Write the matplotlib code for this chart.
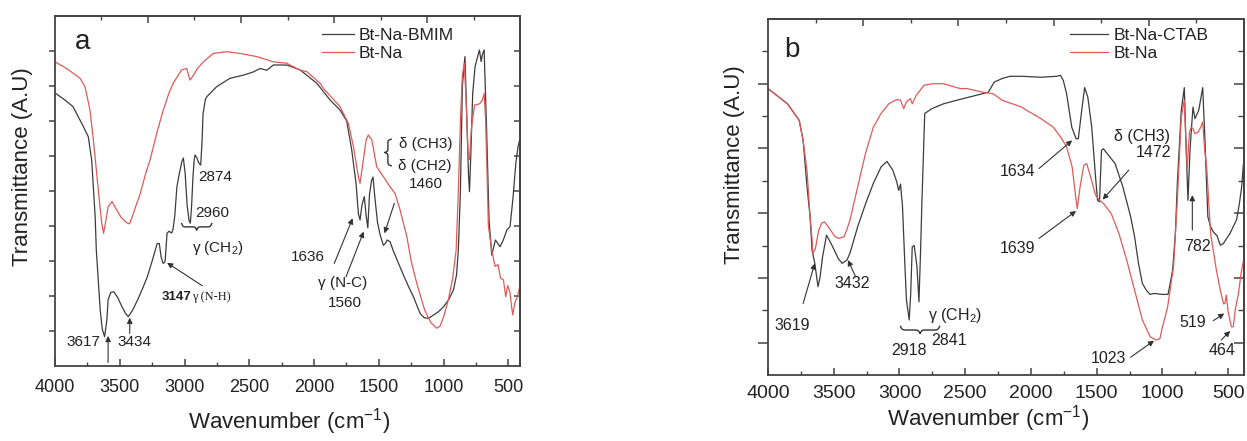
import numpy as np
import matplotlib
matplotlib.use('Agg')
import matplotlib.pyplot as plt
from matplotlib.ticker import MultipleLocator, NullFormatter

plt.rcParams['font.family'] = ['Liberation Sans', 'DejaVu Sans']
plt.rcParams['mathtext.fontset'] = 'custom'
plt.rcParams['mathtext.rm'] = 'Liberation Sans'
plt.rcParams['mathtext.it'] = 'Liberation Sans:italic'

# panel a: Bt-Na-BMIM (black) and Bt-Na (red)
bmim_wn = [4000, 3930, 3861, 3781, 3743, 3717, 3704, 3690, 3681, 3665,
           3651, 3635, 3617, 3600, 3590, 3570, 3545, 3515, 3484, 3455,
           3434, 3400, 3362, 3320, 3287, 3250, 3211, 3195, 3180, 3165,
           3150, 3135, 3120, 3100, 3089, 3075, 3059, 3040, 3020, 3009,
           2995, 2980, 2965, 2955, 2945, 2935, 2925, 2919, 2905, 2890,
           2875, 2865, 2857, 2840, 2829, 2752, 2649, 2546, 2470, 2417,
           2365, 2314, 2211, 2108, 1979, 1876, 1799, 1748, 1709, 1676,
           1658, 1645, 1630, 1612, 1598, 1585, 1572, 1556, 1545, 1530,
           1510, 1490, 1465, 1450, 1435, 1413, 1389, 1350, 1310, 1268,
           1233, 1181, 1150, 1117, 1080, 1040, 1001, 960, 924, 900,
           886, 870, 855, 835, 820, 808, 800, 790, 775, 757,
           740, 723, 710, 700, 687, 677, 667, 649, 628, 600,
           564, 539, 510, 487, 464, 442, 425, 410]
bmim_t = [7.80, 7.62, 7.41, 6.84, 6.55, 5.89, 5.12, 4.27, 3.31, 2.40,
          1.60, 1.05, 0.84, 1.30, 1.89, 2.10, 2.12, 1.95, 1.70, 1.50,
          1.41, 1.60, 1.89, 2.25, 2.55, 3.00, 3.50, 3.50, 3.10, 2.93,
          2.98, 3.79, 3.85, 3.80, 3.90, 4.30, 5.12, 5.50, 5.85, 5.94,
          5.50, 4.60, 4.15, 4.08, 4.60, 5.40, 5.90, 6.03, 5.95, 5.80,
          5.74, 6.40, 7.20, 7.60, 7.69, 7.98, 8.22, 8.31, 8.40, 8.50,
          8.45, 8.60, 8.60, 8.46, 8.08, 7.60, 7.31, 7.00, 6.17, 5.22,
          4.36, 4.17, 4.60, 4.84, 4.30, 3.95, 4.90, 5.30, 5.40, 4.80,
          4.10, 3.75, 3.45, 3.50, 3.60, 3.55, 3.30, 2.95, 2.60, 2.25,
          1.98, 1.50, 1.38, 1.36, 1.45, 1.55, 1.69, 1.90, 2.17, 2.60,
          3.31, 5.00, 8.00, 8.84, 7.00, 5.50, 4.98, 6.00, 7.80, 8.55,
          8.80, 9.03, 8.70, 8.90, 9.03, 7.80, 6.65, 4.17, 3.17, 3.60,
          3.41, 3.60, 3.90, 3.98, 4.80, 5.80, 6.27, 6.50]

na_a_wn = [4000, 3910, 3807, 3768, 3730, 3704, 3678, 3658, 3640, 3625,
           3605, 3590, 3560, 3530, 3490, 3450, 3425, 3400, 3378, 3344,
           3300, 3266, 3211, 3164, 3120, 3087, 3050, 3022, 2983, 2958,
           2932, 2900, 2855, 2778, 2674, 2571, 2442, 2314, 2211, 2108,
           2056, 1954, 1928, 1799, 1735, 1696, 1658, 1645, 1619, 1598,
           1581, 1554, 1516, 1465, 1413, 1375, 1336, 1284, 1250, 1207,
           1146, 1100, 1055, 1027, 1000, 964, 930, 903, 886, 870,
           855, 840, 825, 810, 800, 785, 760, 744, 720, 700,
           687, 675, 654, 628, 602, 580, 560, 538, 520, 505,
           487, 475, 466, 450, 430, 410]
na_a_t = [8.69, 8.50, 8.22, 7.98, 7.31, 6.46, 5.50, 4.74, 4.10, 3.79,
          4.20, 4.55, 4.70, 4.50, 4.25, 4.10, 4.06, 4.30, 4.55, 4.90,
          5.50, 5.89, 6.70, 7.31, 7.80, 8.08, 8.30, 8.46, 8.50, 8.17,
          8.30, 8.50, 8.69, 8.93, 8.98, 8.93, 8.84, 8.69, 8.65, 8.45,
          8.41, 8.08, 7.93, 7.41, 6.93, 6.27, 5.41, 5.22, 5.90, 6.46,
          6.60, 6.46, 5.69, 5.41, 5.12, 4.93, 4.46, 3.70, 3.00, 2.36,
          1.60, 1.25, 1.08, 1.14, 1.40, 1.88, 2.50, 3.31, 5.00, 7.00,
          8.30, 8.65, 7.50, 6.00, 5.90, 6.80, 7.46, 7.46, 7.50, 7.60,
          7.79, 7.00, 4.00, 3.30, 2.84, 2.90, 2.50, 2.46, 1.98, 2.30,
          2.10, 1.70, 1.46, 1.80, 1.98, 2.30]

# panel b: Bt-Na-CTAB (black) and Bt-Na (red)
ctab_wn = [4000, 3852, 3763, 3733, 3703, 3680, 3665, 3644, 3620, 3605,
           3585, 3555, 3525, 3496, 3466, 3436, 3400, 3377, 3318, 3259,
           3199, 3140, 3095, 3051, 3021, 3006, 2992, 2977, 2960, 2947,
           2926, 2915, 2903, 2888, 2867, 2852, 2840, 2829, 2808, 2754,
           2665, 2517, 2369, 2324, 2280, 2220, 2160, 2072, 1924, 1805,
           1776, 1754, 1729, 1690, 1657, 1640, 1614, 1592, 1568, 1538,
           1509, 1494, 1479, 1464, 1449, 1420, 1360, 1301, 1242, 1212,
           1182, 1153, 1123, 1095, 1064, 1000, 958, 946, 923, 902,
           887, 857, 834, 820, 806, 790, 768, 753, 724, 694,
           679, 655, 634, 613, 585, 560, 537, 515, 487, 460,
           436, 415, 398, 385]
ctab_t = [8.85, 8.38, 7.87, 7.25, 5.81, 4.89, 3.86, 3.45, 2.73, 3.00,
          3.65, 4.32, 4.10, 3.86, 3.60, 3.45, 3.55, 3.76, 4.58, 5.28,
          5.92, 6.43, 6.60, 6.33, 5.97, 5.70, 5.90, 5.20, 3.50, 2.31,
          1.70, 2.50, 3.96, 4.00, 3.35, 2.26, 3.80, 5.40, 8.08, 8.23,
          8.38, 8.54, 8.69, 8.74, 9.05, 9.16, 9.23, 9.23, 9.20, 9.23,
          9.26, 9.10, 8.69, 7.66, 7.30, 7.30, 8.18, 8.88, 8.59, 7.66,
          6.12, 5.40, 5.35, 6.94, 6.99, 6.84, 6.53, 5.81, 4.89, 4.27,
          3.44, 2.83, 2.62, 2.49, 2.52, 2.49, 2.49, 2.73, 3.24, 4.37,
          5.92, 8.18, 8.88, 7.00, 5.40, 7.00, 8.28, 7.92, 8.18, 8.88,
          7.46, 4.89, 4.58, 4.42, 4.30, 4.01, 4.06, 4.20, 4.37, 4.60,
          4.80, 5.30, 5.80, 6.50]

na_b_wn = [4000, 3852, 3763, 3733, 3703, 3680, 3665, 3659, 3640, 3614,
           3590, 3570, 3545, 3525, 3495, 3466, 3422, 3400, 3377, 3318,
           3259, 3199, 3140, 3081, 3021, 2992, 2968, 2947, 2917, 2903,
           2873, 2814, 2750, 2665, 2540, 2487, 2369, 2287, 2220, 2072,
           2034, 1924, 1831, 1776, 1729, 1687, 1663, 1648, 1627, 1598,
           1576, 1538, 1509, 1479, 1449, 1390, 1331, 1272, 1212, 1153,
           1093, 1049, 1019, 1005, 961, 916, 887, 857, 834, 820,
           812, 795, 782, 768, 753, 730, 709, 694, 680, 664,
           634, 590, 560, 536, 525, 515, 500, 476, 461, 447,
           423, 400, 385]
na_b_t = [8.85, 8.38, 7.87, 7.25, 6.30, 4.89, 4.20, 3.76, 3.90, 4.48,
          4.70, 4.73, 4.60, 4.48, 4.30, 4.22, 4.27, 4.50, 4.78, 5.81,
          6.84, 7.66, 8.08, 8.38, 8.51, 8.49, 8.23, 8.44, 8.54, 8.38,
          8.64, 8.95, 9.00, 9.00, 8.85, 8.85, 8.74, 8.69, 8.49, 8.28,
          8.18, 7.92, 7.66, 7.36, 7.05, 6.43, 5.61, 5.14, 5.81, 6.48,
          6.53, 6.00, 5.56, 5.40, 5.30, 4.99, 4.37, 3.55, 2.62, 1.70,
          1.18, 1.08, 1.13, 1.40, 2.10, 3.34, 5.40, 7.97, 8.49, 7.00,
          6.40, 7.50, 7.66, 7.60, 7.46, 7.50, 7.66, 7.82, 7.00, 6.43,
          4.37, 3.24, 2.62, 2.20, 2.21, 2.47, 1.95, 1.49, 1.49, 2.00,
          2.50, 3.20, 3.50]

BLACK = '#3c3c3c'
RED = '#e05a5a'
TXT = '#222222'
SPINE = '#444444'

fig = plt.figure(figsize=(12.47, 4.41), dpi=100)
ax_a = fig.add_axes([55 / 1247, 75 / 441, 465 / 1247, 350 / 441])
ax_b = fig.add_axes([768 / 1247, 66 / 441, 476 / 1247, 356 / 441])


def setup(ax, xright, ytop, ymaj, ymin, maj_len, min_len, lab_size, pad):
    ax.set_xlim(4000, xright)
    ax.set_ylim(0, ytop)
    for sp in ax.spines.values():
        sp.set_color(SPINE)
        sp.set_linewidth(1.3)
    ax.xaxis.set_major_locator(MultipleLocator(500))
    ax.xaxis.set_minor_locator(MultipleLocator(250))
    ax.tick_params(axis='x', which='both', direction='in', top=False,
                   colors=SPINE, labelcolor=TXT, labelsize=lab_size, pad=pad)
    ax.tick_params(axis='x', which='major', length=5, width=1.1)
    ax.tick_params(axis='x', which='minor', length=3, width=1.0)
    ax.set_yticks(ymaj)
    ax.set_yticks(ymin, minor=True)
    ax.yaxis.set_major_formatter(NullFormatter())
    ax.tick_params(axis='y', which='both', direction='out', right=False,
                   colors=SPINE)
    ax.tick_params(axis='y', which='major', length=maj_len, width=1.1)
    ax.tick_params(axis='y', which='minor', length=min_len, width=1.0)

    span = 4000 - xright
    top = ax.secondary_xaxis('top', functions=(lambda x: (4000 - x) / span,
                                               lambda u: 4000 - u * span))
    top.set_xticks([0.2, 0.4, 0.6, 0.8])
    top.set_xticks([0.1, 0.3, 0.5, 0.7, 0.9], minor=True)
    top.tick_params(which='both', direction='in', labeltop=False, colors=SPINE)
    top.tick_params(which='major', length=5, width=1.1)
    top.tick_params(which='minor', length=3, width=1.0)
    top.spines['top'].set_color(SPINE)
    top.spines['top'].set_linewidth(1.3)

    right = ax.secondary_yaxis('right')
    right.set_yticks(ymaj)
    right.set_yticks(ymin, minor=True)
    right.tick_params(which='both', direction='in', labelright=False, colors=SPINE)
    right.tick_params(which='major', length=maj_len, width=1.1)
    right.tick_params(which='minor', length=min_len, width=1.0)
    right.spines['right'].set_color(SPINE)
    right.spines['right'].set_linewidth(1.3)


def arrow(ax, start, end):
    ax.annotate('', xy=end, xytext=start,
                arrowprops=dict(arrowstyle='-|>', color='#333333', lw=0.8,
                                mutation_scale=8, shrinkA=0, shrinkB=0))


def brace_shape(n=60, b=45):
    u = np.linspace(0, 0.5, n)
    h = 1 / (1 + np.exp(-b * u)) + 1 / (1 + np.exp(-b * (u - 0.5)))
    h = (h - h.min()) / (h.max() - h.min())
    return np.concatenate([h, h[::-1][1:]])


def hbrace(ax, x0, x1, y_end, y_tip):
    shp = brace_shape()
    s = np.linspace(0, 1, len(shp))
    ax.plot(x0 + (x1 - x0) * s, y_end + (y_tip - y_end) * shp,
            color='#333333', lw=1.0)


def vbrace(ax, y0, y1, x_end, x_tip):
    shp = brace_shape()
    s = np.linspace(0, 1, len(shp))
    ax.plot(x_end + (x_tip - x_end) * shp, y0 + (y1 - y0) * s,
            color='#333333', lw=1.0)


# ---------------- panel a ----------------
setup(ax_a, 410, 10, list(range(1, 10)), [], 4, 2, 13, 9)
ax_a.plot(bmim_wn, bmim_t, color=BLACK, lw=0.9, label='Bt-Na-BMIM')
ax_a.plot(na_a_wn, na_a_t, color=RED, lw=0.9, label='Bt-Na')
ax_a.legend(loc='upper left', bbox_to_anchor=(0.575, 0.965), frameon=False,
            fontsize=12.5, handlelength=1.8, handletextpad=0.3,
            labelspacing=0.15, borderpad=0, borderaxespad=0,
            labelcolor=TXT)
ax_a.text(3787, 9.27, 'a', fontsize=20, ha='center', va='center', color=TXT)
ax_a.set_xlabel('Wavenumber (cm$^{-1}$)', fontsize=16, color=TXT)
ax_a.xaxis.set_label_coords(0.503, -0.115)
ax_a.set_ylabel('Transmittance (A.U)', fontsize=16, color=TXT)
ax_a.yaxis.set_label_coords(-0.048, 0.57)

fs = 11
ax_a.text(2895, 5.41, '2874', fontsize=fs, ha='left', va='center', color=TXT)
ax_a.text(2915, 4.36, '2960', fontsize=fs, ha='left', va='center', color=TXT)
hbrace(ax_a, 3022, 2790, 4.07, 3.88)
ax_a.text(2740, 3.36, '\u03b3 (CH$_2$)', fontsize=fs, ha='center', va='center', color=TXT)
ax_a.text(3178, 1.98, '3147', fontsize=9.5, ha='left', va='center', color=TXT,
          fontweight='bold')
ax_a.text(2945, 1.96, '\u03b3 (N-H)', fontsize=9, ha='left', va='center', color=TXT,
          family='Liberation Serif')
arrow(ax_a, (2862, 2.29), (3135, 2.95))
ax_a.text(3651, 0.70, '3617', fontsize=fs, ha='right', va='center', color=TXT)
arrow(ax_a, (3590, 0.10), (3590, 0.86))
ax_a.text(3514, 0.70, '3434', fontsize=fs, ha='left', va='center', color=TXT)
arrow(ax_a, (3423, 0.93), (3423, 1.38))
ax_a.text(1920, 3.12, '1636', fontsize=fs, ha='right', va='center', color=TXT)
arrow(ax_a, (1844, 2.93), (1702, 4.22))
ax_a.text(1778, 2.36, '\u03b3 (N-C)', fontsize=fs, ha='center', va='center', color=TXT)
ax_a.text(1762, 1.79, '1560', fontsize=fs, ha='center', va='center', color=TXT)
arrow(ax_a, (1753, 2.55), (1617, 3.84))
vbrace(ax_a, 5.72, 6.48, 1405, 1455)
ax_a.text(1344, 6.34, '\u03b4 (CH3)', fontsize=fs, ha='left', va='center', color=TXT)
ax_a.text(1353, 5.72, '\u03b4 (CH2)', fontsize=fs, ha='left', va='center', color=TXT)
ax_a.text(1137, 5.19, '1460', fontsize=fs, ha='center', va='center', color=TXT)
arrow(ax_a, (1380, 4.65), (1456, 3.79))

# ---------------- panel b ----------------
setup(ax_b, 380, 11, [1, 3, 5, 7, 9], [2, 4, 6, 8, 10], 7, 4, 14, 7)
ax_b.plot(ctab_wn, ctab_t, color=BLACK, lw=0.9, label='Bt-Na-CTAB')
ax_b.plot(na_b_wn, na_b_t, color=RED, lw=0.9, label='Bt-Na')
ax_b.legend(loc='upper left', bbox_to_anchor=(0.635, 0.975), frameon=False,
            fontsize=12.5, handlelength=2.2, handletextpad=0.3,
            labelspacing=0.15, borderpad=0, borderaxespad=0,
            labelcolor=TXT)
ax_b.text(3822, 10.03, 'b', fontsize=20, ha='center', va='center', color=TXT)
ax_b.set_xlabel('Wavenumber (cm$^{-1}$)', fontsize=16, color=TXT)
ax_b.xaxis.set_label_coords(0.463, -0.08)
ax_b.set_ylabel('Transmittance (A.U)', fontsize=16, color=TXT)
ax_b.yaxis.set_label_coords(-0.048, 0.59)

fs = 11.5
ax_b.text(3816, 1.54, '3619', fontsize=fs, ha='center', va='center', color=TXT)
arrow(ax_b, (3733, 2.21), (3644, 3.45))
ax_b.text(3362, 2.83, '3432', fontsize=fs, ha='center', va='center', color=TXT)
arrow(ax_b, (3333, 3.03), (3392, 3.55))
hbrace(ax_b, 2992, 2695, 1.50, 1.28)
ax_b.text(2926, 0.77, '2918', fontsize=fs, ha='center', va='center', color=TXT)
ax_b.text(2621, 1.08, '2841', fontsize=fs, ha='center', va='center', color=TXT)
ax_b.text(2784, 1.85, '\u03b3 (CH$_2$)', fontsize=fs, ha='left', va='center', color=TXT)
ax_b.text(2102, 6.28, '1634', fontsize=fs, ha='center', va='center', color=TXT)
arrow(ax_b, (1939, 6.38), (1687, 7.25))
ax_b.text(2102, 3.91, '1639', fontsize=fs, ha='center', va='center', color=TXT)
arrow(ax_b, (1939, 4.22), (1657, 5.07))
ax_b.text(1153, 7.36, '\u03b4 (CH3)', fontsize=fs, ha='center', va='center', color=TXT)
ax_b.text(1070, 6.89, '1472', fontsize=fs, ha='center', va='center', color=TXT)
arrow(ax_b, (1256, 6.33), (1455, 5.42))
ax_b.text(737, 3.96, '782', fontsize=fs, ha='center', va='center', color=TXT)
arrow(ax_b, (773, 4.48), (773, 5.56))
ax_b.text(767, 1.62, '519', fontsize=fs, ha='center', va='center', color=TXT)
arrow(ax_b, (613, 1.68), (530, 1.90))
ax_b.text(1414, 0.51, '1023', fontsize=fs, ha='center', va='center', color=TXT)
arrow(ax_b, (1242, 0.55), (1064, 1.06))
ax_b.text(545, 0.77, '464', fontsize=fs, ha='center', va='center', color=TXT)
arrow(ax_b, (554, 1.08), (485, 1.36))

fig.savefig('out.png', dpi=100)
